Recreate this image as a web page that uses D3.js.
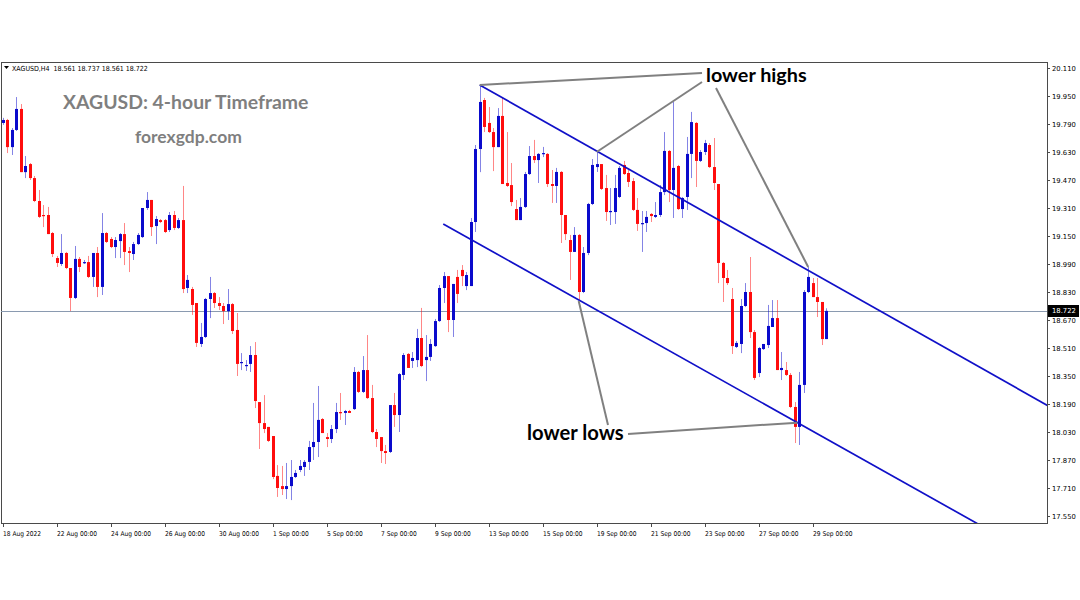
<!DOCTYPE html>
<html><head><meta charset="utf-8">
<script src="https://cdn.jsdelivr.net/npm/d3@7"></script>
<style>html,body{margin:0;padding:0;background:#fff;} svg{display:block;}</style>
</head><body>
<svg id="chart" width="1080" height="600"></svg>
<script>
// ---- data (XAGUSD H4, 18 Aug - 29 Sep 2022) ----
const opens = [
19.796,19.813,19.658,19.756,19.876,19.515,19.561,19.481,19.350,19.270,
19.270,19.167,19.024,18.990,19.053,18.967,18.796,19.019,18.996,19.001,
18.916,19.053,18.859,19.167,19.133,19.087,19.121,19.161,19.064,19.047,
19.104,19.144,19.310,19.356,19.207,19.241,19.241,19.184,19.270,19.196,
19.241,18.853,18.847,18.767,18.533,18.573,18.790,18.824,18.767,18.750,
18.721,18.761,18.613,18.424,18.407,18.419,18.470,18.201,18.081,18.059,
18.007,17.779,17.721,17.704,17.721,17.773,17.813,17.830,17.859,17.944,
17.973,18.104,18.001,17.990,18.047,18.144,18.139,18.150,18.161,18.373,
18.259,18.384,18.224,18.030,18.001,17.921,17.916,18.184,18.127,18.356,
18.476,18.436,18.441,18.567,18.441,18.459,18.521,18.664,18.853,18.921,
18.670,18.916,18.956,18.864,18.864,19.230,19.647,19.927,19.796,19.744,
19.658,19.836,19.453,19.441,19.304,19.241,19.316,19.504,19.607,19.584,
19.619,19.619,19.447,19.436,19.516,19.270,19.127,19.059,19.156,18.830,
19.053,19.333,19.544,19.561,19.424,19.287,19.287,19.373,19.556,19.510,
19.464,19.299,19.219,19.224,19.276,19.259,19.270,19.401,19.636,19.413,
19.550,19.304,19.373,19.619,19.796,19.579,19.630,19.670,19.544,19.447,
18.996,18.910,18.790,18.516,18.533,18.750,18.830,18.601,18.367,18.504,
18.527,18.630,18.681,18.384,18.384,18.356,18.173,18.059,18.299,18.830,
18.881,18.801,18.773,18.561];
const highs = [
19.825,19.819,19.767,19.944,19.904,19.607,19.567,19.493,19.413,19.327,
19.316,19.173,19.036,19.161,19.059,18.967,19.093,19.030,19.013,19.036,
19.053,19.087,19.281,19.173,19.144,19.144,19.167,19.224,19.087,19.116,
19.167,19.310,19.401,19.356,19.264,19.247,19.247,19.287,19.293,19.253,
19.436,18.927,18.859,18.767,18.653,18.796,18.916,18.830,18.801,18.767,
18.847,18.767,18.710,18.481,18.441,18.521,18.544,18.201,18.241,18.059,
18.007,17.841,17.836,17.853,17.870,17.813,17.870,17.870,17.979,18.196,
18.293,18.110,18.024,18.070,18.196,18.253,18.156,18.156,18.401,18.379,
18.464,18.584,18.299,18.047,18.001,17.956,18.184,18.253,18.367,18.481,
18.481,18.487,18.619,18.739,18.584,18.561,18.676,18.870,18.944,18.921,
18.876,18.956,18.984,18.944,19.253,19.670,20.013,19.939,19.887,19.767,
19.881,19.944,19.744,19.567,19.356,19.367,19.516,19.664,19.699,19.624,
19.659,19.624,19.527,19.539,19.521,19.270,19.156,19.201,19.161,19.087,
19.339,19.590,19.630,19.561,19.499,19.424,19.499,19.550,19.579,19.527,
19.481,19.367,19.293,19.293,19.281,19.344,19.441,19.744,19.641,19.916,
19.556,19.373,19.716,19.859,19.801,19.641,19.699,19.681,19.710,19.447,
19.001,18.956,18.853,18.550,18.790,18.881,19.030,18.613,18.516,18.533,
18.756,18.784,18.784,18.487,18.430,18.367,18.201,18.373,18.841,18.973,
18.910,18.910,18.773,18.737];
const lows = [
19.785,19.624,19.613,19.750,19.515,19.481,19.470,19.344,19.253,19.201,
19.161,19.030,18.973,18.979,18.961,18.721,18.790,18.944,18.990,18.910,
18.859,18.801,18.813,19.110,19.081,19.024,19.024,18.984,18.944,19.013,
19.099,19.139,19.299,19.150,19.104,19.224,19.167,19.173,19.184,19.190,
18.824,18.824,18.699,18.516,18.516,18.567,18.681,18.739,18.727,18.647,
18.670,18.590,18.350,18.384,18.379,18.373,18.167,17.933,18.024,17.973,
17.761,17.659,17.670,17.647,17.641,17.767,17.801,17.779,17.813,17.870,
17.887,18.024,17.944,17.967,18.024,18.099,18.070,18.139,18.156,18.253,
18.253,18.219,18.024,17.944,17.853,17.847,17.910,18.059,18.030,18.327,
18.396,18.396,18.401,18.401,18.321,18.436,18.516,18.659,18.767,18.601,
18.573,18.767,18.864,18.841,18.864,19.173,19.515,19.744,19.739,19.521,
19.658,19.447,19.430,19.321,19.241,19.241,19.310,19.499,19.567,19.453,
19.601,19.430,19.339,19.339,19.110,19.127,18.899,19.059,18.779,18.824,
19.041,19.327,19.516,19.413,19.236,19.213,19.219,19.367,19.499,19.430,
19.293,19.179,19.059,19.173,19.230,19.253,19.259,19.384,19.344,19.253,
19.299,19.253,19.299,19.481,19.430,19.573,19.613,19.539,19.413,18.881,
18.773,18.870,18.476,18.510,18.481,18.744,18.567,18.327,18.344,18.499,
18.510,18.630,18.384,18.327,18.350,18.167,17.967,17.956,18.253,18.824,
18.801,18.687,18.527,18.561];
const closes = [
19.813,19.658,19.756,19.876,19.515,19.550,19.481,19.350,19.259,19.264,
19.161,19.047,18.996,19.053,18.967,18.796,19.019,18.973,19.001,18.916,
19.053,18.859,19.167,19.116,19.087,19.127,19.161,19.059,19.053,19.104,
19.156,19.310,19.356,19.201,19.247,19.230,19.173,19.270,19.196,19.241,
18.847,18.899,18.756,18.539,18.573,18.790,18.824,18.767,18.750,18.721,
18.761,18.607,18.419,18.430,18.413,18.470,18.207,18.081,18.047,17.979,
17.773,17.710,17.704,17.721,17.773,17.796,17.836,17.859,17.944,17.973,
18.099,18.024,17.990,18.047,18.144,18.139,18.150,18.139,18.373,18.259,
18.384,18.224,18.030,17.990,17.921,17.910,18.184,18.127,18.361,18.470,
18.396,18.453,18.567,18.407,18.459,18.533,18.664,18.853,18.921,18.670,
18.876,18.819,18.921,18.927,19.230,19.647,19.916,19.773,19.744,19.658,
19.836,19.447,19.436,19.344,19.241,19.316,19.504,19.607,19.584,19.619,
19.624,19.447,19.436,19.516,19.270,19.161,19.059,19.156,18.830,19.053,
19.333,19.556,19.561,19.419,19.287,19.293,19.424,19.539,19.504,19.459,
19.299,19.219,19.224,19.259,19.264,19.270,19.401,19.636,19.413,19.539,
19.304,19.367,19.619,19.801,19.579,19.630,19.681,19.544,19.453,18.996,
18.910,18.881,18.521,18.539,18.750,18.830,18.601,18.339,18.510,18.533,
18.636,18.681,18.384,18.396,18.356,18.173,18.059,18.299,18.830,18.916,
18.801,18.773,18.561,18.722];

const priceTicks = [20.110,19.950,19.790,19.630,19.470,19.310,19.150,18.990,18.830,18.670,18.510,18.350,18.190,18.030,17.870,17.710,17.550];
const dateTickIndex = [0,12,24,36,48,60,72,84,96,108,120,132,144,156,168,180];
const dateTickLabels = ["18 Aug 2022","22 Aug 00:00","24 Aug 00:00","26 Aug 00:00","30 Aug 00:00","1 Sep 00:00","5 Sep 00:00","7 Sep 00:00","9 Sep 00:00","13 Sep 00:00","15 Sep 00:00","19 Sep 00:00","21 Sep 00:00","23 Sep 00:00","27 Sep 00:00","29 Sep 00:00"];
const symbolLabel = "XAGUSD,H4";
const lastBar = [18.561, 18.737, 18.561, 18.722]; // O H L C
const channelUpper = [[106, 20.013], [232, 18.184]];
const channelLower = [[97.9, 19.219], [216.7, 17.505]];
const titleText = "XAGUSD: 4-hour Timeframe";
const siteText = "forexgdp.com";

// ---- layout ----
const L = 1, R = 1047, T = 62, B = 523;
const svg = d3.select("#chart");
const x = d3.scaleLinear().domain([0, 232]).range([2.7, 1046.7]);
const y = d3.scaleLinear().domain([17.55, 20.11]).range([516, 68]);
const BLUE = "#0a0acc", RED = "#ff0d0d";

svg.append("defs").append("clipPath").attr("id", "plot")
  .append("rect").attr("x", L).attr("y", T).attr("width", R - L).attr("height", B - T);

// frame
svg.append("rect").attr("x", L + 0.5).attr("y", T + 0.5).attr("width", R - L).attr("height", B - T)
  .attr("fill", "none").attr("stroke", "#4a4a4a").attr("stroke-width", 1);

// header
svg.append("path").attr("d", "M4,66 L9,66 L6.5,69 Z").attr("fill", "#000");
svg.append("text").attr("x", 12).attr("y", 70.5)
  .attr("font-family", "'DejaVu Sans Condensed', 'Liberation Sans Narrow', 'Liberation Sans', sans-serif").attr("font-size", 7)
  .attr("fill", "#000").attr("xml:space", "preserve").style("white-space", "pre")
  .text(symbolLabel + "  " + lastBar.map(v => v.toFixed(3)).join(" "));

// titles
svg.append("text").attr("x", 63).attr("y", 109)
  .attr("font-family", "Lato, sans-serif").attr("font-weight", 700).attr("font-size", 19.4)
  .attr("fill", "#7f7f7f").text(titleText);
svg.append("text").attr("x", 135).attr("y", 143)
  .attr("font-family", "Lato, sans-serif").attr("font-weight", 700).attr("font-size", 17.5)
  .attr("fill", "#7f7f7f").text(siteText);

const plot = svg.append("g").attr("clip-path", "url(#plot)");

// current price line
plot.append("line").attr("x1", L).attr("x2", R)
  .attr("y1", Math.round(y(lastBar[3])) + 0.5).attr("y2", Math.round(y(lastBar[3])) + 0.5)
  .attr("stroke", "#8a9ab0").attr("stroke-width", 1);

// candles
const idx = d3.range(opens.length);
const cg = plot.append("g");
idx.forEach(i => {
  const cx = Math.round(x(i));
  const up = closes[i] >= opens[i];
  const col = up ? BLUE : RED;
  const yh = y(highs[i]), yl = y(lows[i]);
  cg.append("rect").attr("x", cx).attr("y", yh).attr("width", 1).attr("height", Math.max(1, yl - yh))
    .attr("fill", col).attr("opacity", 0.5);
  const yo = y(opens[i]), yc = y(closes[i]);
  const top = Math.min(yo, yc), h = Math.max(1.2, Math.abs(yo - yc));
  cg.append("rect").attr("x", cx - 1).attr("y", top).attr("width", 3).attr("height", h).attr("fill", col);
});

// channel lines
function extend(p, xEnd) {
  const [a, b] = p;
  const s = (b[1] - a[1]) / (b[0] - a[0]);
  return [[a[0], a[1]], [xEnd, a[1] + s * (xEnd - a[0])]];
}
const lineGen = d3.line().x(d => x(d[0])).y(d => y(d[1]));
plot.append("path").attr("d", lineGen(extend(channelUpper, 240)))
  .attr("fill", "none").attr("stroke", "#1010c8").attr("stroke-width", 1.7);
plot.append("path").attr("d", lineGen(extend(channelLower, 240)))
  .attr("fill", "none").attr("stroke", "#1010c8").attr("stroke-width", 1.7);
function lowerAt(i) {
  const [a, b] = channelLower;
  return a[1] + (b[1] - a[1]) / (b[0] - a[0]) * (i - a[0]);
}

// annotations
const ann = svg.append("g").attr("stroke", "#808080").attr("stroke-width", 2).attr("fill", "none");
ann.append("line").attr("x1", 702).attr("y1", 73).attr("x2", x(106)).attr("y2", y(highs[106]));
ann.append("line").attr("x1", 702).attr("y1", 82).attr("x2", x(132)).attr("y2", y(highs[132]));
ann.append("line").attr("x1", 716).attr("y1", 88).attr("x2", x(179)).attr("y2", y(highs[179]));
ann.append("line").attr("x1", 608).attr("y1", 425).attr("x2", x(128)).attr("y2", y(lows[128]));
ann.append("line").attr("x1", 628).attr("y1", 434).attr("x2", x(176.6)).attr("y2", y(lowerAt(176.6)));

svg.append("text").attr("x", 706).attr("y", 82)
  .attr("font-family", "Lato, sans-serif").attr("font-weight", 700).attr("font-size", 19.8)
  .attr("fill", "#000").text("lower highs");
svg.append("text").attr("x", 527).attr("y", 440)
  .attr("font-family", "Lato, sans-serif").attr("font-weight", 700).attr("font-size", 20.2)
  .attr("fill", "#000").text("lower lows");

// right price axis
const ay = svg.append("g");
priceTicks.forEach(v => {
  const yy = Math.round(y(v)) + 0.5;
  ay.append("line").attr("x1", R).attr("x2", R + 3).attr("y1", yy).attr("y2", yy).attr("stroke", "#4a4a4a");
  ay.append("text").attr("x", 1052).attr("y", yy).attr("dy", "0.35em")
    .attr("font-family", "'DejaVu Sans', sans-serif").attr("font-size", 6.8).attr("fill", "#000")
    .text(v.toFixed(3));
});
const yp = Math.round(y(lastBar[3]));
ay.append("rect").attr("x", R + 1).attr("y", yp - 6).attr("width", 31).attr("height", 12).attr("fill", "#000");
ay.append("text").attr("x", 1052).attr("y", yp).attr("dy", "0.35em")
  .attr("font-family", "'DejaVu Sans', sans-serif").attr("font-size", 6.8).attr("fill", "#fff")
  .text(lastBar[3].toFixed(3));

// bottom date axis
const ax = svg.append("g");
dateTickIndex.forEach((ti, k) => {
  const xx = Math.round(x(ti)) + 0.5;
  ax.append("line").attr("x1", xx).attr("x2", xx).attr("y1", B).attr("y2", B + 4).attr("stroke", "#4a4a4a");
  ax.append("text").attr("x", xx - 0.5).attr("y", 535.5)
    .attr("font-family", "'DejaVu Sans Condensed', 'Liberation Sans Narrow', 'DejaVu Sans', sans-serif")
    .attr("font-size", 6.6).attr("fill", "#000").text(dateTickLabels[k]);
});
</script>
</body></html>
